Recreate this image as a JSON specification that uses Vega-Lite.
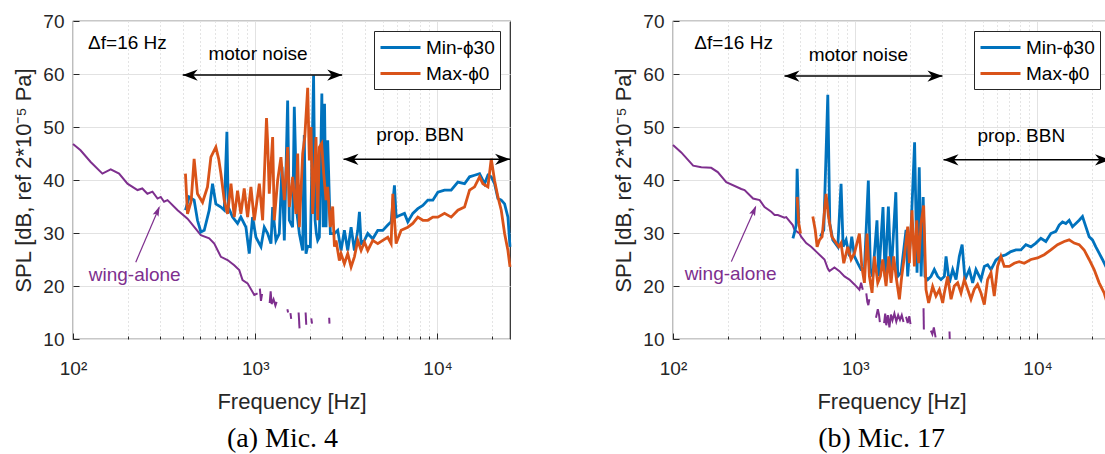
{
"$schema":"https://vega.github.io/schema/vega-lite/v6.json",
"background":"white",
"padding":{"left":12,"top":11,"right":0,"bottom":0},
"spacing":95,
"resolve":{"scale":{"color":"independent"},"legend":{"color":"independent"}},
"config":{
 "font":"Liberation Sans",
 "view":{"stroke":"#262626","strokeWidth":1.2},
 "axis":{"labelFontSize":19,"labelColor":"#262626","titleFontSize":22,"titleColor":"#262626","titleFontWeight":"normal","domain":false,"tickColor":"#262626","tickWidth":1,"grid":true,"gridColor":"#e2e2e2","gridWidth":1},
 "legend":{"orient":"top-right","offset":10,"padding":5,"strokeColor":"#262626","fillColor":"white","labelFontSize":19,"labelColor":"#000","symbolType":"M-1,0L3,0","symbolSize":400,"symbolStrokeWidth":3,"rowPadding":4,"labelOffset":24,"cornerRadius":0}
},
"datasets":{
"aMin":[{"f":414,"d":34.3},{"f":434,"d":36.8},{"f":462,"d":36.2},{"f":482,"d":32.4},{"f":503,"d":30.2},{"f":525,"d":30.5},{"f":559,"d":34.3},{"f":583,"d":39.3},{"f":608,"d":35.5},{"f":648,"d":34.9},{"f":676,"d":34.3},{"f":699,"d":49.1},{"f":711,"d":34.9},{"f":751,"d":33.0},{"f":800,"d":31.8},{"f":834,"d":33.0},{"f":889,"d":31.1},{"f":927,"d":26.1},{"f":967,"d":33.0},{"f":1009,"d":29.2},{"f":1075,"d":27.4},{"f":1121,"d":31.1},{"f":1170,"d":29.9},{"f":1220,"d":28.0},{"f":1246,"d":34.9},{"f":1299,"d":28.6},{"f":1355,"d":29.9},{"f":1402,"d":42.5},{"f":1444,"d":28.6},{"f":1506,"d":55.0},{"f":1538,"d":32.4},{"f":1604,"d":31.1},{"f":1638,"d":53.8},{"f":1695,"d":33.6},{"f":1746,"d":29.9},{"f":1821,"d":26.7},{"f":1858,"d":48.5},{"f":1899,"d":26.1},{"f":1939,"d":27.5},{"f":2006,"d":27.4},{"f":2090,"d":59.7},{"f":2130,"d":32.4},{"f":2165,"d":29.9},{"f":2201,"d":28.6},{"f":2248,"d":29.2},{"f":2320,"d":56.3},{"f":2360,"d":31.1},{"f":2400,"d":54.4},{"f":2446,"d":31.1},{"f":2498,"d":47.5},{"f":2584,"d":29.9},{"f":2718,"d":29.9},{"f":2835,"d":30.5},{"f":2957,"d":26.7},{"f":3084,"d":30.5},{"f":3218,"d":26.7},{"f":3357,"d":31.1},{"f":3501,"d":26.7},{"f":3652,"d":30.5},{"f":3730,"d":34.0},{"f":3809,"d":28.0},{"f":3973,"d":28.6},{"f":4144,"d":29.9},{"f":4415,"d":28.9},{"f":4703,"d":30.5},{"f":5010,"d":30.5},{"f":5337,"d":31.5},{"f":5567,"d":32.1},{"f":5806,"d":39.0},{"f":5930,"d":33.0},{"f":6187,"d":33.3},{"f":6590,"d":33.7},{"f":6873,"d":32.1},{"f":7322,"d":33.7},{"f":7800,"d":34.6},{"f":8311,"d":35.2},{"f":8853,"d":36.2},{"f":9432,"d":36.2},{"f":10049,"d":37.7},{"f":10929,"d":38.1},{"f":11890,"d":38.1},{"f":12937,"d":39.6},{"f":14075,"d":39.3},{"f":14998,"d":40.6},{"f":15977,"d":40.9},{"f":17018,"d":41.2},{"f":18126,"d":39.3},{"f":18910,"d":40.9},{"f":19723,"d":40.6},{"f":20572,"d":39.3},{"f":21462,"d":36.5},{"f":22385,"d":36.2},{"f":23349,"d":35.5},{"f":24357,"d":33.0},{"f":25000,"d":27.4}],
"aMax":[{"f":414,"d":41.2},{"f":425,"d":33.6},{"f":445,"d":36.0},{"f":462,"d":44.0},{"f":482,"d":37.4},{"f":514,"d":35.8},{"f":547,"d":38.7},{"f":571,"d":44.3},{"f":608,"d":46.2},{"f":630,"d":44.0},{"f":648,"d":41.2},{"f":676,"d":36.2},{"f":705,"d":33.6},{"f":736,"d":39.3},{"f":767,"d":33.0},{"f":800,"d":38.0},{"f":834,"d":33.6},{"f":870,"d":38.4},{"f":908,"d":33.0},{"f":947,"d":38.7},{"f":988,"d":32.4},{"f":1053,"d":39.3},{"f":1098,"d":32.4},{"f":1153,"d":51.7},{"f":1170,"d":47.0},{"f":1194,"d":37.4},{"f":1246,"d":48.1},{"f":1272,"d":32.4},{"f":1327,"d":39.9},{"f":1384,"d":44.3},{"f":1444,"d":36.2},{"f":1506,"d":46.2},{"f":1538,"d":34.9},{"f":1604,"d":40.6},{"f":1673,"d":33.6},{"f":1710,"d":45.0},{"f":1746,"d":31.1},{"f":1821,"d":45.0},{"f":1870,"d":48.1},{"f":1940,"d":57.4},{"f":1981,"d":43.7},{"f":2023,"d":50.0},{"f":2066,"d":33.6},{"f":2155,"d":48.1},{"f":2201,"d":32.4},{"f":2248,"d":46.2},{"f":2315,"d":46.9},{"f":2375,"d":41.2},{"f":2446,"d":36.2},{"f":2498,"d":38.7},{"f":2584,"d":31.1},{"f":2660,"d":35.0},{"f":2720,"d":27.4},{"f":2776,"d":28.6},{"f":2895,"d":24.8},{"f":2957,"d":26.1},{"f":3084,"d":24.2},{"f":3218,"d":26.1},{"f":3357,"d":23.6},{"f":3501,"d":25.5},{"f":3652,"d":28.6},{"f":3809,"d":26.7},{"f":3973,"d":28.3},{"f":4144,"d":26.7},{"f":4415,"d":28.6},{"f":4703,"d":28.0},{"f":5010,"d":28.6},{"f":5337,"d":29.2},{"f":5567,"d":28.0},{"f":5686,"d":37.4},{"f":5930,"d":28.0},{"f":6319,"d":30.5},{"f":6873,"d":31.1},{"f":7322,"d":31.8},{"f":7800,"d":33.0},{"f":8311,"d":32.4},{"f":8853,"d":32.4},{"f":9432,"d":33.0},{"f":10049,"d":33.0},{"f":10929,"d":33.7},{"f":11890,"d":33.0},{"f":12937,"d":34.3},{"f":14075,"d":34.9},{"f":14998,"d":38.1},{"f":15977,"d":38.7},{"f":17018,"d":40.6},{"f":17748,"d":39.3},{"f":18910,"d":38.7},{"f":19723,"d":44.0},{"f":20572,"d":39.9},{"f":21462,"d":36.8},{"f":22385,"d":34.3},{"f":23349,"d":29.9},{"f":24357,"d":26.7},{"f":25000,"d":23.6}],
"aW":[{"g":1,"f":100,"d":46.8},{"g":1,"f":110,"d":45.6},{"g":1,"f":125,"d":43.4},{"g":1,"f":145,"d":41.2},{"g":1,"f":161,"d":42.0},{"g":1,"f":179,"d":41.2},{"g":1,"f":199,"d":39.3},{"g":1,"f":226,"d":38.1},{"g":1,"f":240,"d":38.4},{"g":1,"f":256,"d":37.4},{"g":1,"f":273,"d":37.8},{"g":1,"f":291,"d":36.5},{"g":1,"f":303,"d":36.8},{"g":1,"f":316,"d":35.9},{"g":1,"f":330,"d":36.2},{"g":1,"f":375,"d":34.3},{"g":1,"f":425,"d":32.7},{"g":1,"f":503,"d":29.6},{"g":1,"f":559,"d":29.0},{"g":1,"f":596,"d":28.0},{"g":1,"f":648,"d":25.5},{"g":1,"f":705,"d":24.9},{"g":1,"f":767,"d":23.9},{"g":1,"f":817,"d":23.0},{"g":1,"f":852,"d":21.1},{"g":1,"f":908,"d":20.5},{"g":1,"f":988,"d":18.3},{"g":1,"f":1030,"d":18.6},
{"g":2,"f":1060,"d":19.5},{"g":2,"f":1075,"d":17.2},{"g":2,"f":1090,"d":18.5},
{"g":3,"f":1200,"d":16.8},{"g":3,"f":1215,"d":19.0},{"g":3,"f":1230,"d":16.6},{"g":3,"f":1260,"d":17.5},{"g":3,"f":1290,"d":16.3},{"g":3,"f":1310,"d":17.0},
{"g":4,"f":1500,"d":15.6},{"g":4,"f":1515,"d":15.0},
{"g":5,"f":1560,"d":14.9},{"g":5,"f":1575,"d":13.8},
{"g":6,"f":1730,"d":15.0},{"g":6,"f":1750,"d":12.0},
{"g":7,"f":1890,"d":15.0},{"g":7,"f":1905,"d":12.7},
{"g":8,"f":2030,"d":13.9},{"g":8,"f":2050,"d":12.9},
{"g":9,"f":2545,"d":14.0},{"g":9,"f":2555,"d":12.9}],
"bMin":[{"g":1,"f":455,"d":29.0},{"g":1,"f":468,"d":30.6},{"g":1,"f":474,"d":31.5},{"g":1,"f":480,"d":42.1},{"g":1,"f":490,"d":31.8},
{"g":2,"f":644,"d":29.3},{"g":2,"f":672,"d":30.6},{"g":2,"f":707,"d":56.1},{"g":2,"f":725,"d":31.8},{"g":2,"f":753,"d":28.7},{"g":2,"f":802,"d":27.4},{"g":2,"f":836,"d":39.3},{"g":2,"f":858,"d":27.4},{"g":2,"f":891,"d":28.7},{"g":2,"f":929,"d":25.6},{"g":2,"f":957,"d":29.3},{"g":2,"f":990,"d":25.6},{"g":2,"f":1032,"d":24.3},{"g":2,"f":1077,"d":23.1},{"g":2,"f":1123,"d":23.1},{"g":2,"f":1180,"d":39.9},{"g":2,"f":1211,"d":23.1},{"g":2,"f":1247,"d":21.8},{"g":2,"f":1316,"d":32.4},{"g":2,"f":1346,"d":21.8},{"g":2,"f":1420,"d":34.9},{"g":2,"f":1458,"d":21.8},{"g":2,"f":1520,"d":35.0},{"g":2,"f":1572,"d":21.8},{"g":2,"f":1670,"d":37.7},{"g":2,"f":1711,"d":21.8},{"g":2,"f":1784,"d":22.5},{"g":2,"f":1900,"d":30.6},{"g":2,"f":1940,"d":21.8},{"g":2,"f":2024,"d":30.6},{"g":2,"f":2117,"d":47.1},{"g":2,"f":2183,"d":22.5},{"g":2,"f":2245,"d":42.4},{"g":2,"f":2300,"d":21.8},{"g":2,"f":2360,"d":36.8},{"g":2,"f":2414,"d":21.8},{"g":2,"f":2498,"d":21.2},{"g":2,"f":2604,"d":21.8},{"g":2,"f":2716,"d":23.1},{"g":2,"f":2834,"d":21.8},{"g":2,"f":2955,"d":21.2},{"g":2,"f":3083,"d":21.8},{"g":2,"f":3150,"d":25.6},{"g":2,"f":3284,"d":20.6},{"g":2,"f":3426,"d":23.1},{"g":2,"f":3573,"d":21.2},{"g":2,"f":3725,"d":25.6},{"g":2,"f":3860,"d":27.8},{"g":2,"f":4002,"d":21.2},{"g":2,"f":4227,"d":23.1},{"g":2,"f":4409,"d":20.6},{"g":2,"f":4597,"d":23.1},{"g":2,"f":4896,"d":21.2},{"g":2,"f":5108,"d":23.7},{"g":2,"f":5327,"d":24.0},{"g":2,"f":5559,"d":23.1},{"g":2,"f":5916,"d":24.9},{"g":2,"f":6302,"d":25.6},{"g":2,"f":6712,"d":25.9},{"g":2,"f":7150,"d":26.5},{"g":2,"f":7615,"d":26.8},{"g":2,"f":8111,"d":26.8},{"g":2,"f":8639,"d":27.8},{"g":2,"f":9203,"d":27.4},{"g":2,"f":9801,"d":28.1},{"g":2,"f":10436,"d":29.0},{"g":2,"f":11114,"d":28.4},{"g":2,"f":11839,"d":29.9},{"g":2,"f":12616,"d":30.3},{"g":2,"f":13155,"d":31.5},{"g":2,"f":13722,"d":32.1},{"g":2,"f":14311,"d":31.8},{"g":2,"f":14925,"d":32.4},{"g":2,"f":15563,"d":31.2},{"g":2,"f":16235,"d":31.8},{"g":2,"f":16932,"d":32.4},{"g":2,"f":17659,"d":33.1},{"g":2,"f":18418,"d":31.2},{"g":2,"f":19210,"d":29.3},{"g":2,"f":20033,"d":28.7},{"g":2,"f":20900,"d":27.4},{"g":2,"f":21797,"d":26.2},{"g":2,"f":22731,"d":25.0},{"g":2,"f":23705,"d":23.7},{"g":2,"f":25000,"d":23.5}],
"bMax":[{"g":1,"f":480,"d":36.8},{"g":1,"f":490,"d":31.8},{"g":1,"f":501,"d":29.9},
{"g":2,"f":585,"d":33.1},{"g":2,"f":603,"d":30.6},{"g":2,"f":618,"d":27.4},{"g":2,"f":637,"d":28.7},{"g":2,"f":658,"d":29.3},{"g":2,"f":692,"d":37.4},{"g":2,"f":713,"d":33.1},{"g":2,"f":744,"d":29.3},{"g":2,"f":786,"d":28.1},{"g":2,"f":812,"d":27.4},{"g":2,"f":836,"d":28.1},{"g":2,"f":865,"d":24.3},{"g":2,"f":910,"d":27.4},{"g":2,"f":949,"d":25.0},{"g":2,"f":990,"d":26.2},{"g":2,"f":1054,"d":29.9},{"g":2,"f":1086,"d":23.7},{"g":2,"f":1123,"d":20.6},{"g":2,"f":1161,"d":29.9},{"g":2,"f":1196,"d":21.8},{"g":2,"f":1237,"d":18.7},{"g":2,"f":1274,"d":25.6},{"g":2,"f":1329,"d":20.6},{"g":2,"f":1374,"d":21.8},{"g":2,"f":1415,"d":25.0},{"g":2,"f":1476,"d":20.0},{"g":2,"f":1527,"d":25.6},{"g":2,"f":1572,"d":20.6},{"g":2,"f":1626,"d":25.6},{"g":2,"f":1675,"d":21.8},{"g":2,"f":1747,"d":17.5},{"g":2,"f":1799,"d":21.8},{"g":2,"f":1861,"d":25.6},{"g":2,"f":1940,"d":31.2},{"g":2,"f":1981,"d":24.3},{"g":2,"f":2049,"d":34.3},{"g":2,"f":2111,"d":23.7},{"g":2,"f":2174,"d":32.4},{"g":2,"f":2229,"d":24.3},{"g":2,"f":2296,"d":31.8},{"g":2,"f":2374,"d":35.2},{"g":2,"f":2445,"d":19.3},{"g":2,"f":2528,"d":16.8},{"g":2,"f":2659,"d":19.9},{"g":2,"f":2773,"d":18.1},{"g":2,"f":2894,"d":19.3},{"g":2,"f":3019,"d":16.8},{"g":2,"f":3083,"d":18.7},{"g":2,"f":3215,"d":21.8},{"g":2,"f":3355,"d":17.5},{"g":2,"f":3497,"d":20.0},{"g":2,"f":3647,"d":20.6},{"g":2,"f":3805,"d":18.7},{"g":2,"f":3968,"d":21.2},{"g":2,"f":4137,"d":19.4},{"g":2,"f":4316,"d":17.5},{"g":2,"f":4501,"d":19.4},{"g":2,"f":4692,"d":20.3},{"g":2,"f":4896,"d":18.7},{"g":2,"f":5108,"d":16.5},{"g":2,"f":5327,"d":21.2},{"g":2,"f":5559,"d":22.5},{"g":2,"f":5793,"d":18.1},{"g":2,"f":6043,"d":23.7},{"g":2,"f":6302,"d":25.6},{"g":2,"f":6573,"d":23.7},{"g":2,"f":7001,"d":23.7},{"g":2,"f":7455,"d":24.3},{"g":2,"f":7942,"d":24.6},{"g":2,"f":8460,"d":24.3},{"g":2,"f":9203,"d":25.0},{"g":2,"f":10007,"d":25.3},{"g":2,"f":10886,"d":25.9},{"g":2,"f":11839,"d":26.8},{"g":2,"f":12881,"d":27.8},{"g":2,"f":14012,"d":28.4},{"g":2,"f":14925,"d":28.7},{"g":2,"f":15893,"d":28.1},{"g":2,"f":16932,"d":27.8},{"g":2,"f":18032,"d":26.8},{"g":2,"f":19210,"d":25.0},{"g":2,"f":20459,"d":23.1},{"g":2,"f":21797,"d":20.6},{"g":2,"f":23215,"d":18.7},{"g":2,"f":25000,"d":15.0}],
"bW":[{"g":1,"f":100,"d":46.6},{"g":1,"f":111,"d":45.2},{"g":1,"f":129,"d":42.7},{"g":1,"f":143,"d":42.4},{"g":1,"f":162,"d":42.3},{"g":1,"f":176,"d":41.5},{"g":1,"f":196,"d":39.6},{"g":1,"f":237,"d":38.3},{"g":1,"f":247,"d":38.1},{"g":1,"f":275,"d":36.5},{"g":1,"f":299,"d":36.2},{"g":1,"f":318,"d":34.9},{"g":1,"f":346,"d":34.0},{"g":1,"f":361,"d":33.4},{"g":1,"f":376,"d":33.4},{"g":1,"f":409,"d":32.9},{"g":1,"f":418,"d":33.0},{"g":1,"f":454,"d":31.5},{"g":1,"f":464,"d":30.6},{"g":1,"f":495,"d":29.9},{"g":1,"f":505,"d":29.3},{"g":1,"f":538,"d":28.1},{"g":1,"f":573,"d":27.4},{"g":1,"f":623,"d":26.2},{"g":1,"f":678,"d":25.0},{"g":1,"f":707,"d":23.3},{"g":1,"f":722,"d":22.8},{"g":1,"f":769,"d":23.5},{"g":1,"f":819,"d":22.8},{"g":1,"f":873,"d":21.8},{"g":1,"f":929,"d":21.2},{"g":1,"f":990,"d":20.3},{"g":1,"f":1054,"d":19.3},{"g":1,"f":1077,"d":20.6},{"g":1,"f":1100,"d":19.3},
{"g":2,"f":1150,"d":18.6},{"g":2,"f":1165,"d":17.0},{"g":2,"f":1180,"d":16.4},{"g":2,"f":1195,"d":17.5},
{"g":3,"f":1300,"d":14.0},{"g":3,"f":1330,"d":15.6},{"g":3,"f":1350,"d":14.6},{"g":3,"f":1365,"d":13.2},
{"g":4,"f":1440,"d":13.0},{"g":4,"f":1460,"d":14.8},{"g":4,"f":1480,"d":12.6},{"g":4,"f":1510,"d":14.5},{"g":4,"f":1540,"d":12.2},{"g":4,"f":1570,"d":14.6},{"g":4,"f":1600,"d":13.5},{"g":4,"f":1640,"d":14.8},{"g":4,"f":1680,"d":13.3},{"g":4,"f":1720,"d":14.5},{"g":4,"f":1760,"d":13.6},{"g":4,"f":1800,"d":14.5},{"g":4,"f":1840,"d":13.2},
{"g":5,"f":1900,"d":14.2},{"g":5,"f":1940,"d":13.0},{"g":5,"f":1980,"d":14.3},{"g":5,"f":2010,"d":12.8},
{"g":6,"f":2370,"d":15.8},{"g":6,"f":2380,"d":11.8},
{"g":7,"f":2600,"d":11.6},{"g":7,"f":2650,"d":10.9},{"g":7,"f":2700,"d":12.2},{"g":7,"f":2760,"d":10.3},
{"g":8,"f":3290,"d":11.4},{"g":8,"f":3300,"d":10.0}],
"aArr":[{"f":400,"f2":3000,"d":59.8},{"f":3050,"f2":25000,"d":43.9}],
"aHead":[{"f":400,"d":59.8,"dir":"L"},{"f":3000,"d":59.8,"dir":"R"},{"f":3050,"d":43.9,"dir":"L"},{"f":25000,"d":43.9,"dir":"R"}],
"bArr":[{"f":409,"f2":3010,"d":59.6},{"f":3050,"f2":25000,"d":43.8}],
"bHead":[{"f":409,"d":59.6,"dir":"L"},{"f":3010,"d":59.6,"dir":"R"},{"f":3050,"d":43.8,"dir":"L"},{"f":25000,"d":43.8,"dir":"R"}],
"aWA":[{"f":221,"d":24.5,"f2":297,"d2":34.8}],
"aWH":[{"f":299,"d":35.1}],
"bWA":[{"f":209,"d":24.6,"f2":284,"d2":34.9}],
"bWH":[{"f":286,"d":35.2}],
"aTxt":[{"t":"Δf=16 Hz","f":199,"d":65.9},{"t":"motor noise","f":1036,"d":63.8},{"t":"prop. BBN","f":8030,"d":48.4}],
"bTxt":[{"t":"Δf=16 Hz","f":215,"d":65.9},{"t":"motor noise","f":1040,"d":63.6},{"t":"prop. BBN","f":8150,"d":48.3}],
"aTxtW":[{"t":"wing-alone","f":218,"d":22.0}],
"bTxtW":[{"t":"wing-alone","f":207,"d":22.2}]
},
"hconcat":[
{
"width":437,"height":318,
"title":{"text":"(a) Mic.  4","orient":"bottom","anchor":"middle","frame":"group","font":"Liberation Serif","fontSize":28,"fontWeight":"normal","color":"#000","offset":13,"dx":-9},
"encoding":{
 "x":{"field":"f","type":"quantitative","scale":{"type":"log","domain":[100,25000],"nice":false},"axis":{"title":"Frequency [Hz]","values":[100,200,300,400,500,600,700,800,900,1000,2000,3000,4000,5000,6000,7000,8000,9000,10000,20000],"labelExpr":"datum.value==100?'10²':datum.value==1000?'10³':datum.value==10000?'10⁴':''","labelOverlap":false,"labelFlush":false,"labelPadding":26,"titlePadding":10,"gridDash":{"condition":{"test":"datum.value!=100&&datum.value!=1000&&datum.value!=10000","value":[1,3]},"value":[]},"gridColor":{"condition":{"test":"datum.value!=100&&datum.value!=1000&&datum.value!=10000","value":"#c8c8c8"},"value":"#e2e2e2"},"tickSize":{"condition":{"test":"datum.value!=100&&datum.value!=1000&&datum.value!=10000","value":-3},"value":-6}}},
 "y":{"field":"d","type":"quantitative","scale":{"domain":[10,70],"nice":false},"axis":{"title":"SPL [dB, ref 2*10⁻⁵ Pa]","values":[10,20,30,40,50,60,70],"tickSize":-6,"labelPadding":15,"titlePadding":7}}
},
"layer":[
 {"data":{"name":"aW"},"mark":{"type":"line","color":"#7E2F8E","strokeWidth":2},"encoding":{"detail":{"field":"g"}}},
 {"data":{"name":"aMin"},"mark":{"type":"line","strokeWidth":2.8},"encoding":{"color":{"datum":"Min-ϕ30","type":"nominal","scale":{"domain":["Min-ϕ30","Max-ϕ0"],"range":["#0072BD","#D95319"]},"legend":{"title":null}}}},
 {"data":{"name":"aMax"},"mark":{"type":"line","strokeWidth":2.8},"encoding":{"color":{"datum":"Max-ϕ0","type":"nominal","scale":{"domain":["Min-ϕ30","Max-ϕ0"],"range":["#0072BD","#D95319"]},"legend":{"title":null}}}},
 {"data":{"name":"aArr"},"mark":{"type":"rule","color":"#000","strokeWidth":1.5},"encoding":{"x2":{"field":"f2"}}},
 {"data":{"name":"aHead"},"mark":{"type":"point","filled":true,"color":"#000","opacity":1,"size":225,"strokeWidth":0},"encoding":{"shape":{"field":"dir","type":"nominal","scale":{"domain":["L","R"],"range":["M0,0L2,-0.75L1.4,0L2,0.75Z","M0,0L-2,-0.75L-1.4,0L-2,0.75Z"]},"legend":null}}},
 {"data":{"name":"aWA"},"mark":{"type":"rule","color":"#7E2F8E","strokeWidth":1.2},"encoding":{"x2":{"field":"f2"},"y2":{"field":"d2"}}},
 {"data":{"name":"aWH"},"mark":{"type":"point","filled":true,"color":"#7E2F8E","opacity":1,"size":110,"strokeWidth":0,"shape":"M0,0L2,-0.6L1.6,0L2,0.6Z","angle":113},"encoding":{}},
 {"data":{"name":"aTxt"},"mark":{"type":"text","fontSize":19,"color":"#000","baseline":"middle"},"encoding":{"text":{"field":"t"}}},
 {"data":{"name":"aTxtW"},"mark":{"type":"text","fontSize":19,"color":"#7E2F8E","baseline":"middle"},"encoding":{"text":{"field":"t"}}}
]
},
{
"width":437,"height":318,
"title":{"text":"(b) Mic.  17","orient":"bottom","anchor":"middle","frame":"group","font":"Liberation Serif","fontSize":28,"fontWeight":"normal","color":"#000","offset":13,"dx":-10},
"encoding":{
 "x":{"field":"f","type":"quantitative","scale":{"type":"log","domain":[100,25000],"nice":false},"axis":{"title":"Frequency [Hz]","values":[100,200,300,400,500,600,700,800,900,1000,2000,3000,4000,5000,6000,7000,8000,9000,10000,20000],"labelExpr":"datum.value==100?'10²':datum.value==1000?'10³':datum.value==10000?'10⁴':''","labelOverlap":false,"labelFlush":false,"labelPadding":26,"titlePadding":10,"gridDash":{"condition":{"test":"datum.value!=100&&datum.value!=1000&&datum.value!=10000","value":[1,3]},"value":[]},"gridColor":{"condition":{"test":"datum.value!=100&&datum.value!=1000&&datum.value!=10000","value":"#c8c8c8"},"value":"#e2e2e2"},"tickSize":{"condition":{"test":"datum.value!=100&&datum.value!=1000&&datum.value!=10000","value":-3},"value":-6}}},
 "y":{"field":"d","type":"quantitative","scale":{"domain":[10,70],"nice":false},"axis":{"title":"SPL [dB, ref 2*10⁻⁵ Pa]","values":[10,20,30,40,50,60,70],"tickSize":-6,"labelPadding":15,"titlePadding":7}}
},
"layer":[
 {"data":{"name":"bW"},"mark":{"type":"line","color":"#7E2F8E","strokeWidth":2},"encoding":{"detail":{"field":"g"}}},
 {"data":{"name":"bMin"},"mark":{"type":"line","strokeWidth":2.8},"encoding":{"detail":{"field":"g"},"color":{"datum":"Min-ϕ30","type":"nominal","scale":{"domain":["Min-ϕ30","Max-ϕ0"],"range":["#0072BD","#D95319"]},"legend":{"title":null}}}},
 {"data":{"name":"bMax"},"mark":{"type":"line","strokeWidth":2.8},"encoding":{"detail":{"field":"g"},"color":{"datum":"Max-ϕ0","type":"nominal","scale":{"domain":["Min-ϕ30","Max-ϕ0"],"range":["#0072BD","#D95319"]},"legend":{"title":null}}}},
 {"data":{"name":"bArr"},"mark":{"type":"rule","color":"#000","strokeWidth":1.5},"encoding":{"x2":{"field":"f2"}}},
 {"data":{"name":"bHead"},"mark":{"type":"point","filled":true,"color":"#000","opacity":1,"size":225,"strokeWidth":0},"encoding":{"shape":{"field":"dir","type":"nominal","scale":{"domain":["L","R"],"range":["M0,0L2,-0.75L1.4,0L2,0.75Z","M0,0L-2,-0.75L-1.4,0L-2,0.75Z"]},"legend":null}}},
 {"data":{"name":"bWA"},"mark":{"type":"rule","color":"#7E2F8E","strokeWidth":1.2},"encoding":{"x2":{"field":"f2"},"y2":{"field":"d2"}}},
 {"data":{"name":"bWH"},"mark":{"type":"point","filled":true,"color":"#7E2F8E","opacity":1,"size":110,"strokeWidth":0,"shape":"M0,0L2,-0.6L1.6,0L2,0.6Z","angle":113},"encoding":{}},
 {"data":{"name":"bTxt"},"mark":{"type":"text","fontSize":19,"color":"#000","baseline":"middle"},"encoding":{"text":{"field":"t"}}},
 {"data":{"name":"bTxtW"},"mark":{"type":"text","fontSize":19,"color":"#7E2F8E","baseline":"middle"},"encoding":{"text":{"field":"t"}}}
]
}
]
}
